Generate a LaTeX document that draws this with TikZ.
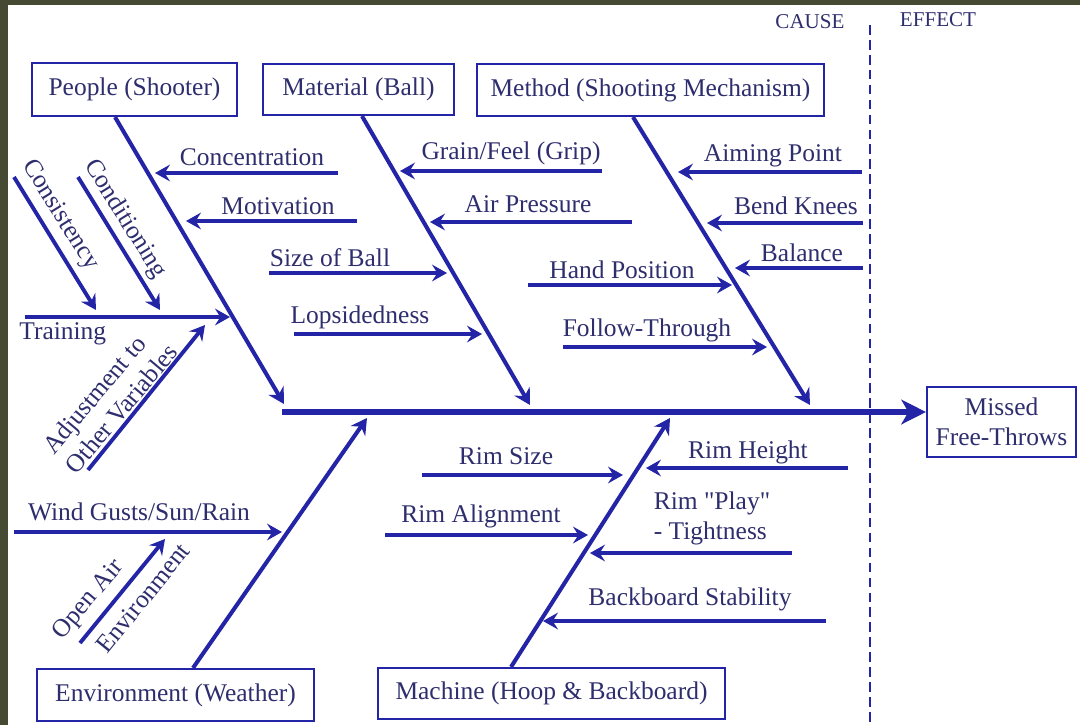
\documentclass[tikz,border=0pt]{standalone}
\usepackage{fontspec}
\setmainfont{Liberation Serif}
\usetikzlibrary{arrows.meta,calc}
\definecolor{fbline}{HTML}{2424A6}
\definecolor{ink}{HTML}{2E2E6E}
\definecolor{frame}{HTML}{474A33}
\tikzset{
  box/.style={draw=fbline,line width=1.2pt,align=center,inner sep=0pt,
    fill=white,text=ink,font=\fontsize{14.5}{17}\selectfont},
  lbl/.style={inner sep=0pt,align=center,text=ink,
    font=\fontsize{14.5}{17}\selectfont},
  side/.style={inner sep=0pt,text=ink,font=\fontsize{12}{14}\selectfont},
  arr/.style={-{Stealth[length=8.5pt,width=9.5pt,inset=3pt]},line width=2.2pt,fbline},
  bone/.style={-{Stealth[length=9pt,width=10pt,inset=3pt]},line width=2.3pt,fbline},
  spine/.style={-{Stealth[length=14pt,width=14pt,inset=4pt]},line width=3.4pt,fbline},
  divider/.style={fbline,line width=1.4pt,dash pattern=on 5.5pt off 3pt}
}
\begin{document}
\begin{tikzpicture}[x=0.02cm,y=-0.02cm]
  \useasboundingbox (0,0) rectangle (1080,725);
  \fill[frame] (0,0) rectangle (1080,725);
  \fill[white] (8,5) rectangle (1080,725);

  \node[side] (cause) at (810,22) {CAUSE};
  \node[side] (effect) at (938,20) {EFFECT};
  \draw[divider] (870,25) -- (870,725);

  \node[box,minimum width=4.1cm,minimum height=1.06cm] (ppl) at (134.5,89.5) {People (Shooter)};
  \node[box,minimum width=3.82cm,minimum height=1.02cm] (mat) at (358.5,89.5) {Material (Ball)};
  \node[box,minimum width=6.94cm,minimum height=1.04cm] (meth) at (650.5,90) {Method (Shooting Mechanism)};
  \node[box,minimum width=5.54cm,minimum height=1.04cm] (env) at (175.5,695) {Environment (Weather)};
  \node[box,minimum width=6.94cm,minimum height=1.02cm] (mach) at (551.5,693.5) {Machine (Hoop \& Backboard)};
  \node[box,minimum width=2.98cm,minimum height=1.4cm] (eff) at (1001.5,422) {Missed\\Free-Throws};

  \coordinate (tail) at (282,412);
  \coordinate (j-ppl) at (284,404);
  \coordinate (j-mat) at (530,405);
  \coordinate (j-meth) at (810,405);
  \coordinate (j-env) at (367,418);
  \coordinate (j-mach) at (670,418);
  \draw[spine] (tail) -- (tail -| eff.west);
  \draw[bone] ([xshift=-0.39cm]ppl.south) -- (j-ppl);
  \draw[bone] ([xshift=0.07cm]mat.south) -- (j-mat);
  \draw[bone] ([xshift=-0.35cm]meth.south) -- (j-meth);
  \draw[bone] ([xshift=0.35cm]env.north) -- (j-env);
  \draw[bone] ([xshift=-0.81cm]mach.north) -- (j-mach);

  % people
  \node[lbl] (conc) at (252,157) {Concentration};
  \node[lbl] (motiv) at (278,206) {Motivation};
  \node[lbl,anchor=west] (train) at (19,334) {Training};
  \node[lbl,rotate=-58] (consist) at (60,215) {Consistency};
  \node[lbl,rotate=-58] (condit) at (125,219) {Conditioning};
  \node[lbl,rotate=50,align=left] (adjust) at (110,399) {Adjustment to\\Other Variables};
  \coordinate (conc-a) at (338,173); \coordinate (conc-b) at (155,173);
  \coordinate (motiv-a) at (357,221); \coordinate (motiv-b) at (186,221);
  \coordinate (train-a) at (25,317); \coordinate (train-b) at (230,317);
  \coordinate (consist-a) at (14,177); \coordinate (consist-b) at (96,310);
  \coordinate (condit-a) at (78,177); \coordinate (condit-b) at (160,310);
  \coordinate (adjust-a) at (88,470); \coordinate (adjust-b) at (205,325);
  \draw[arr] (conc-a) -- (conc-b);
  \draw[arr] (motiv-a) -- (motiv-b);
  \draw[arr] (train-a) -- (train-b);
  \draw[arr] (consist-a) -- (consist-b);
  \draw[arr] (condit-a) -- (condit-b);
  \draw[arr] (adjust-a) -- (adjust-b);

  % material
  \node[lbl] (grip) at (511,153) {Grain/Feel (Grip)};
  \node[lbl] (air) at (528,204) {Air Pressure};
  \node[lbl] (size) at (330,258) {Size of Ball};
  \node[lbl] (lops) at (360,317) {Lopsidedness};
  \coordinate (grip-a) at (602,171); \coordinate (grip-b) at (400,171);
  \coordinate (air-a) at (632,222); \coordinate (air-b) at (430,222);
  \coordinate (size-a) at (269,273); \coordinate (size-b) at (447,273);
  \coordinate (lops-a) at (294,334); \coordinate (lops-b) at (482,334);
  \draw[arr] (grip-a) -- (grip-b);
  \draw[arr] (air-a) -- (air-b);
  \draw[arr] (size-a) -- (size-b);
  \draw[arr] (lops-a) -- (lops-b);

  % method
  \node[lbl] (aim) at (773,156) {Aiming Point};
  \node[lbl] (knees) at (796,206) {Bend Knees};
  \node[lbl] (bal) at (802,253) {Balance};
  \node[lbl] (hand) at (622,270) {Hand Position};
  \node[lbl] (follow) at (647,330) {Follow-Through};
  \coordinate (aim-a) at (862,172); \coordinate (aim-b) at (678,172);
  \coordinate (knees-a) at (863,223); \coordinate (knees-b) at (707,223);
  \coordinate (bal-a) at (863,268); \coordinate (bal-b) at (735,268);
  \coordinate (hand-a) at (528,285); \coordinate (hand-b) at (732,285);
  \coordinate (follow-a) at (563,347); \coordinate (follow-b) at (767,347);
  \draw[arr] (aim-a) -- (aim-b);
  \draw[arr] (knees-a) -- (knees-b);
  \draw[arr] (bal-a) -- (bal-b);
  \draw[arr] (hand-a) -- (hand-b);
  \draw[arr] (follow-a) -- (follow-b);

  % environment
  \node[lbl] (wind) at (139,512) {Wind Gusts/Sun/Rain};
  \node[lbl,rotate=50] (open) at (89,600) {Open Air};
  \node[lbl,rotate=51] (openenv) at (143,598) {Environment};
  \coordinate (wind-a) at (14,532); \coordinate (wind-b) at (282,532);
  \coordinate (open-a) at (80,643); \coordinate (open-b) at (165,539);
  \draw[arr] (wind-a) -- (wind-b);
  \draw[arr] (open-a) -- (open-b);

  % machine
  \node[lbl] (rimsize) at (506,456) {Rim Size};
  \node[lbl] (rimal) at (481,516) {Rim Alignment};
  \node[lbl] (rimh) at (748,452) {Rim Height};
  \node[lbl,align=left] (play) at (712,518) {Rim \textquotedbl Play\textquotedbl\\- Tightness};
  \node[lbl] (backb) at (690,599) {Backboard Stability};
  \coordinate (rimsize-a) at (422,475); \coordinate (rimsize-b) at (623,475);
  \coordinate (rimal-a) at (385,535); \coordinate (rimal-b) at (588,535);
  \coordinate (rimh-a) at (848,468); \coordinate (rimh-b) at (646,468);
  \coordinate (play-a) at (792,553); \coordinate (play-b) at (590,553);
  \coordinate (backb-a) at (826,621); \coordinate (backb-b) at (543,621);
  \draw[arr] (rimsize-a) -- (rimsize-b);
  \draw[arr] (rimal-a) -- (rimal-b);
  \draw[arr] (rimh-a) -- (rimh-b);
  \draw[arr] (play-a) -- (play-b);
  \draw[arr] (backb-a) -- (backb-b);
\end{tikzpicture}
\end{document}
